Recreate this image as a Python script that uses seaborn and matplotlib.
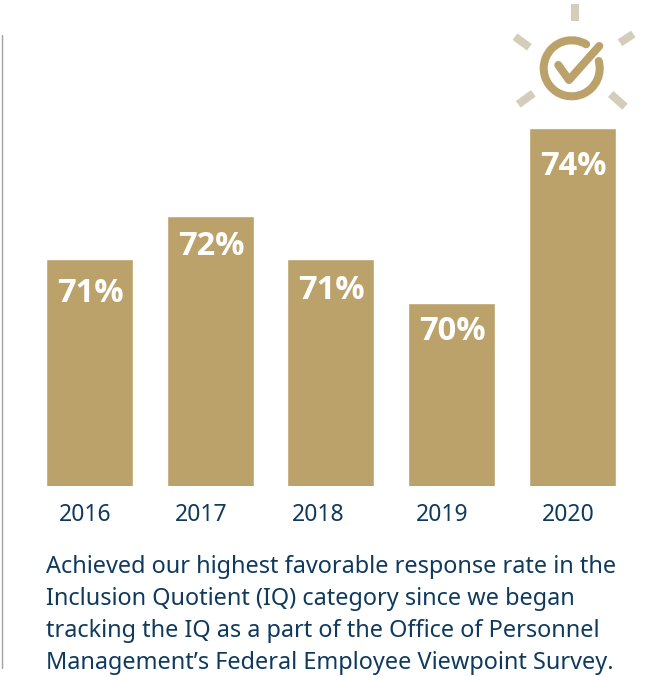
import matplotlib
matplotlib.use("Agg")
import matplotlib.pyplot as plt
import numpy as np
import pandas as pd
import seaborn as sns
from matplotlib.lines import Line2D
from matplotlib.patches import Arc

years = ["2016", "2017", "2018", "2019", "2020"]
favorable_rate = [71, 72, 71, 70, 74]
caption_lines = [
    "Achieved our highest favorable response rate in the",
    "Inclusion Quotient (IQ) category since we began",
    "tracking the IQ as a part of the Office of Personnel",
    "Management’s Federal Employee Viewpoint Survey.",
]

GOLD = "#BBA26A"
PALE_GOLD = "#D3CDB9"
NAVY = "#0F3A5E"
W, H = 647, 677

sns.set_theme(style="white")
plt.rcParams["font.family"] = ["Noto Sans", "DejaVu Sans"]

fig = plt.figure(figsize=(W / 100, H / 100), dpi=100, facecolor="white")

# Bars occupy the area above the year labels; the value axis is truncated.
ax = fig.add_axes([0, (H - 486) / H, 1, 486 / H])
frame = pd.DataFrame({"year": years, "rate": favorable_rate})
sns.barplot(data=frame, x="year", y="rate", color=GOLD, saturation=1,
            width=0.7205, ax=ax)
ax.set_xlim(-0.741, 4.617)
ax.set_ylim(65.84, 76.91)
ax.set_xlabel("")
ax.set_ylabel("")
ax.set_yticks([])
sns.despine(ax=ax, left=True, bottom=True)

# Year labels sit slightly left of each bar's centre.
tick_nudge = [-0.037, -0.075, -0.108, -0.075, -0.037]
ax.set_xticks(np.arange(len(years)) + np.array(tick_nudge))
ax.set_xticklabels(years, fontsize=16.5, color=NAVY)
ax.tick_params(axis="x", length=0, pad=12)

# Percent labels inside the top of each bar.
label_drop = [24.5, 22, 22.5, 20.5, 28]
for i, (rate, drop) in enumerate(zip(favorable_rate, label_drop)):
    ax.annotate(f"{rate}%", (i, rate), xytext=(0.5, -drop),
                textcoords="offset points", ha="center", va="center",
                color="white", fontsize=23.5, fontweight="bold",
                family=["Open Sans", "DejaVu Sans"])

# Overlay in pixel units for the vertical rule, the badge and the caption.
overlay = fig.add_axes([0, 0, 1, 1], facecolor="none")
overlay.set_xlim(0, W)
overlay.set_ylim(H, 0)
overlay.axis("off")
overlay.add_line(Line2D([2, 2], [35, 668], color="#A3A3A3", lw=1.0))

rays = [((575, 4), (575, 21)), ((620, 42.7), (633.3, 34)),
        ((515, 36.7), (529.3, 47.3)), ((518.3, 104.3), (533.3, 93.3)),
        ((610.7, 94), (625, 106.7))]
for (x0, y0), (x1, y1) in rays:
    overlay.plot([x0, x1], [y0, y1], color=PALE_GOLD, lw=5.8,
                 solid_capstyle="butt")

# The y axis of the overlay is inverted, so arc angles run clockwise on screen.
overlay.add_patch(Arc((571.7, 68.3), 56, 56, theta1=-15, theta2=301,
                      color=GOLD, lw=5.8, capstyle="round"))
overlay.plot([558.3, 569, 599.3], [65, 80, 46], color=GOLD, lw=5.8,
             solid_capstyle="round", solid_joinstyle="round")

for i, line in enumerate(caption_lines):
    overlay.text(46, 567 + 32 * i, line, color=NAVY, fontsize=16.9,
                 ha="left", va="center")

fig.savefig("out.png", dpi=100, facecolor="white")
